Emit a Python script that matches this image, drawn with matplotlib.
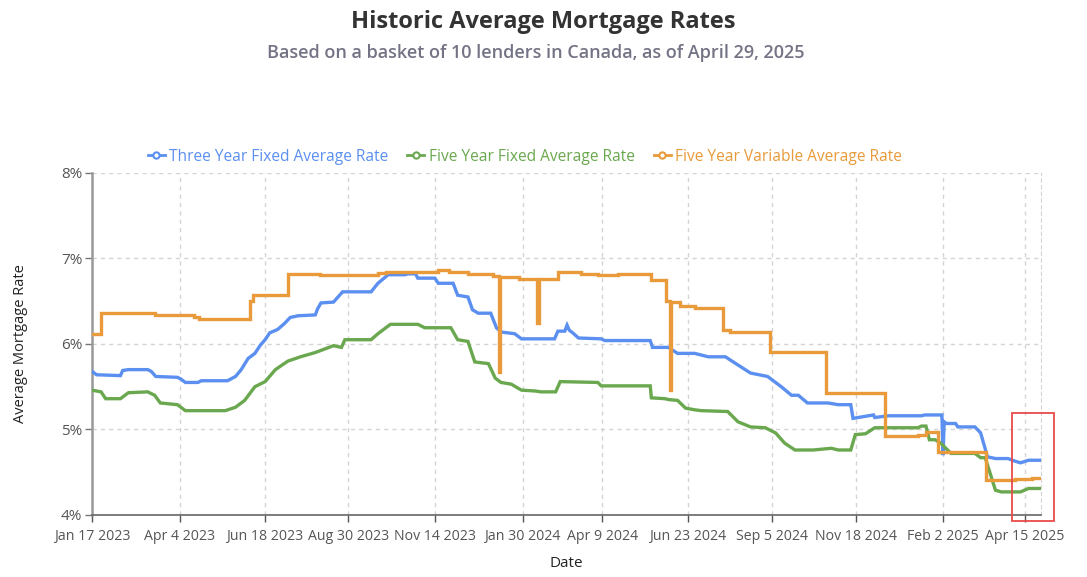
import matplotlib
matplotlib.use("Agg")
import matplotlib.pyplot as plt
from matplotlib.lines import Line2D
from matplotlib.patches import Rectangle
import pandas as pd

plt.rcParams["font.family"] = ["Open Sans", "DejaVu Sans"]

TITLE = "Historic Average Mortgage Rates"
SUBTITLE = "Based on a basket of 10 lenders in Canada, as of April 29, 2025"

THREE_FIXED_LABEL = "Three Year Fixed Average Rate"
FIVE_FIXED_LABEL = "Five Year Fixed Average Rate"
FIVE_VARIABLE_LABEL = "Five Year Variable Average Rate"

# three year fixed
three_fixed_dates = [
    "2023-01-17", "2023-01-21", "2023-02-11", "2023-02-13", "2023-02-18", "2023-03-07",
    "2023-03-10", "2023-03-14", "2023-04-02", "2023-04-05", "2023-04-09", "2023-04-20",
    "2023-04-23", "2023-05-16", "2023-05-23", "2023-05-28", "2023-06-03", "2023-06-09",
    "2023-06-14", "2023-06-18", "2023-06-22", "2023-06-29", "2023-07-05", "2023-07-10",
    "2023-07-17", "2023-08-01", "2023-08-03", "2023-08-06", "2023-08-17", "2023-08-25",
    "2023-09-19", "2023-09-25", "2023-10-04", "2023-10-19", "2023-10-21", "2023-10-28",
    "2023-10-30", "2023-11-14", "2023-11-17", "2023-11-30", "2023-12-04", "2023-12-13",
    "2023-12-17", "2023-12-22", "2024-01-02", "2024-01-07", "2024-01-11", "2024-01-23",
    "2024-01-29", "2024-02-27", "2024-03-01", "2024-03-07", "2024-03-09", "2024-03-11",
    "2024-03-14", "2024-03-19", "2024-04-08", "2024-04-11", "2024-05-21", "2024-05-23",
    "2024-06-06", "2024-06-14", "2024-06-29", "2024-07-11", "2024-07-26", "2024-08-03",
    "2024-08-17", "2024-09-01", "2024-09-13", "2024-09-22", "2024-09-28", "2024-10-06",
    "2024-10-24", "2024-11-02", "2024-11-13", "2024-11-15", "2024-12-03", "2024-12-04",
    "2024-12-16", "2025-01-14", "2025-01-17", "2025-01-30", "2025-02-01", "2025-02-02",
    "2025-02-03", "2025-02-05", "2025-02-13", "2025-02-15", "2025-03-02", "2025-03-07",
    "2025-03-13", "2025-03-20", "2025-03-31", "2025-04-06", "2025-04-11", "2025-04-18",
    "2025-04-29",
]
three_fixed_rates = [
    5.68, 5.64, 5.63, 5.69, 5.70, 5.70,
    5.68, 5.62, 5.61, 5.59, 5.55, 5.55,
    5.57, 5.57, 5.62, 5.70, 5.83, 5.89,
    5.99, 6.05, 6.13, 6.17, 6.24, 6.31,
    6.33, 6.34, 6.41, 6.48, 6.49, 6.61,
    6.61, 6.71, 6.81, 6.81, 6.82, 6.82,
    6.77, 6.77, 6.71, 6.71, 6.57, 6.55,
    6.40, 6.36, 6.36, 6.19, 6.14, 6.12,
    6.06, 6.06, 6.15, 6.15, 6.22, 6.16,
    6.13, 6.07, 6.06, 6.04, 6.04, 5.96,
    5.96, 5.89, 5.89, 5.85, 5.85, 5.78,
    5.66, 5.62, 5.50, 5.40, 5.40, 5.31,
    5.31, 5.29, 5.29, 5.13, 5.17, 5.14,
    5.16, 5.16, 5.17, 5.17, 5.17, 4.70,
    5.09, 5.07, 5.07, 5.03, 5.03, 4.96,
    4.68, 4.66, 4.66, 4.63, 4.61, 4.64,
    4.64,
]

five_fixed_dates = [
    "2023-01-17", "2023-01-25", "2023-01-29", "2023-02-11", "2023-02-18", "2023-03-07",
    "2023-03-13", "2023-03-18", "2023-04-02", "2023-04-09", "2023-05-14", "2023-05-23",
    "2023-05-31", "2023-06-09", "2023-06-18", "2023-06-27", "2023-07-08", "2023-07-19",
    "2023-08-01", "2023-08-17", "2023-08-24", "2023-08-27", "2023-09-19", "2023-09-25",
    "2023-10-06", "2023-10-30", "2023-11-05", "2023-11-28", "2023-12-04", "2023-12-13",
    "2023-12-19", "2023-12-31", "2024-01-06", "2024-01-11", "2024-01-20", "2024-01-29",
    "2024-02-10", "2024-02-15", "2024-02-28", "2024-03-03", "2024-04-05", "2024-04-08",
    "2024-05-21", "2024-05-22", "2024-06-03", "2024-06-06", "2024-06-14", "2024-06-21",
    "2024-06-29", "2024-07-05", "2024-07-28", "2024-08-06", "2024-08-17", "2024-08-30",
    "2024-09-08", "2024-09-16", "2024-09-25", "2024-10-11", "2024-10-27", "2024-11-02",
    "2024-11-13", "2024-11-17", "2024-11-26", "2024-12-04", "2025-01-11", "2025-01-14",
    "2025-01-18", "2025-01-21", "2025-01-26", "2025-01-31", "2025-02-09", "2025-03-02",
    "2025-03-07", "2025-03-11", "2025-03-20", "2025-03-25", "2025-04-11", "2025-04-18",
    "2025-04-29",
]
five_fixed_rates = [
    5.46, 5.44, 5.36, 5.36, 5.43, 5.44,
    5.40, 5.31, 5.29, 5.22, 5.22, 5.26,
    5.34, 5.50, 5.56, 5.70, 5.80, 5.85,
    5.90, 5.98, 5.96, 6.05, 6.05, 6.12,
    6.23, 6.23, 6.19, 6.19, 6.05, 6.03,
    5.79, 5.77, 5.60, 5.55, 5.53, 5.46,
    5.45, 5.44, 5.44, 5.56, 5.55, 5.51,
    5.51, 5.37, 5.36, 5.35, 5.34, 5.25,
    5.23, 5.22, 5.21, 5.09, 5.03, 5.02,
    4.96, 4.84, 4.76, 4.76, 4.78, 4.76,
    4.76, 4.94, 4.95, 5.02, 5.02, 5.04,
    5.04, 4.88, 4.88, 4.84, 4.72, 4.72,
    4.67, 4.67, 4.29, 4.27, 4.27, 4.31,
    4.31,
]

# variable rate changes in steps
five_variable_dates = [
    "2023-01-17", "2023-01-25", "2023-03-13", "2023-04-17", "2023-04-21", "2023-06-05",
    "2023-06-07", "2023-07-08", "2023-08-05", "2023-09-25", "2023-10-02", "2023-11-17",
    "2023-11-26", "2023-12-13", "2024-01-04", "2024-01-09", "2024-01-10", "2024-01-27",
    "2024-02-12", "2024-02-13", "2024-03-01", "2024-03-21", "2024-04-05", "2024-04-23",
    "2024-05-22", "2024-06-04", "2024-06-07", "2024-06-08", "2024-06-16", "2024-06-29",
    "2024-07-24", "2024-07-30", "2024-09-03", "2024-10-22", "2024-12-13", "2025-01-11",
    "2025-01-18", "2025-01-29", "2025-03-12", "2025-04-06", "2025-04-21", "2025-04-29",
]
five_variable_rates = [
    6.12, 6.36, 6.34, 6.32, 6.29, 6.50,
    6.57, 6.82, 6.81, 6.83, 6.84, 6.87,
    6.84, 6.82, 6.80, 5.67, 6.78, 6.76,
    6.25, 6.76, 6.84, 6.82, 6.81, 6.82,
    6.75, 6.50, 5.46, 6.49, 6.45, 6.42,
    6.16, 6.14, 5.91, 5.43, 4.92, 4.94,
    4.97, 4.74, 4.41, 4.42, 4.43, 4.43,
]

x_tick_labels = [
    "Jan 17 2023", "Apr 4 2023", "Jun 18 2023", "Aug 30 2023", "Nov 14 2023",
    "Jan 30 2024", "Apr 9 2024", "Jun 23 2024", "Sep 5 2024", "Nov 18 2024",
    "Feb 2 2025", "Apr 15 2025",
]
y_ticks = [4, 5, 6, 7, 8]

BLUE = "#5b8ff0"
GREEN = "#6aa84f"
ORANGE = "#e99a3a"
GRID = "#d4d4d4"


def make_chart(output_path="out.png"):
    fig = plt.figure(figsize=(10.87, 5.77), dpi=100)
    ax = fig.add_axes([0.0846, 0.1075, 0.8731, 0.5927])

    series = [
        (three_fixed_dates, three_fixed_rates, BLUE, THREE_FIXED_LABEL, "default"),
        (five_fixed_dates, five_fixed_rates, GREEN, FIVE_FIXED_LABEL, "default"),
        (five_variable_dates, five_variable_rates, ORANGE, FIVE_VARIABLE_LABEL, "steps-post"),
    ]
    handles = []
    for dates, rates, color, label, style in series:
        ax.plot(pd.to_datetime(dates), rates, color=color, lw=2.4,
                drawstyle=style, solid_joinstyle="miter", zorder=3)
        handles.append(Line2D([], [], color=color, lw=2, marker="o", ms=4.5,
                              markerfacecolor="white", markeredgewidth=1.5,
                              label=label))

    start = pd.Timestamp("2023-01-17")
    end = pd.Timestamp("2025-04-29")
    ax.set_xlim(start, end)
    ax.set_ylim(4, 8)

    tick_dates = pd.to_datetime(x_tick_labels, format="%b %d %Y")
    ax.set_xticks(tick_dates, x_tick_labels)
    ax.set_yticks(y_ticks, [f"{v}%" for v in y_ticks])

    ax.tick_params(axis="x", colors="#555555", labelsize=10.2, length=5,
                   width=1, pad=5, labelcolor="#555555")
    ax.tick_params(axis="y", colors="#777777", labelsize=11, length=5,
                   width=1, pad=2, labelcolor="#555555")

    ax.grid(True, color=GRID, linestyle=(0, (3, 3)), lw=1)
    ax.set_axisbelow(True)

    ax.spines["top"].set_visible(False)
    ax.spines["right"].set_color(GRID)
    ax.spines["right"].set_linestyle((0, (3, 3)))
    ax.spines["left"].set_color("#999999")
    ax.spines["left"].set_linewidth(1.8)
    ax.spines["bottom"].set_color("#666666")
    ax.spines["bottom"].set_linewidth(1.2)

    ax.set_xlabel("Date", fontsize=11, color="#222222", labelpad=9)
    ax.set_ylabel("Average Mortgage Rate", fontsize=10.5, color="#222222", labelpad=24)

    fig.text(0.5, 0.962, TITLE, ha="center", va="center", fontsize=17,
             fontweight="bold", color="#333333")
    fig.text(0.493, 0.908, SUBTITLE, ha="center", va="center", fontsize=13,
             fontweight="semibold", color="#737385")

    fig.legend(handles=handles, loc="center", bbox_to_anchor=(0.483, 0.728),
               ncol=3, frameon=False, fontsize=11.2, labelcolor="linecolor",
               handlelength=1.1, handletextpad=0.3, columnspacing=1.2)

    # red highlight box around the latest readings
    fig.patches.append(Rectangle((0.931, 0.097), 0.0386, 0.187,
                                 transform=fig.transFigure, fill=False,
                                 edgecolor="#e84a4a", lw=1.3))

    fig.savefig(output_path, dpi=100)
    plt.close(fig)
    return output_path


if __name__ == "__main__":
    make_chart()
